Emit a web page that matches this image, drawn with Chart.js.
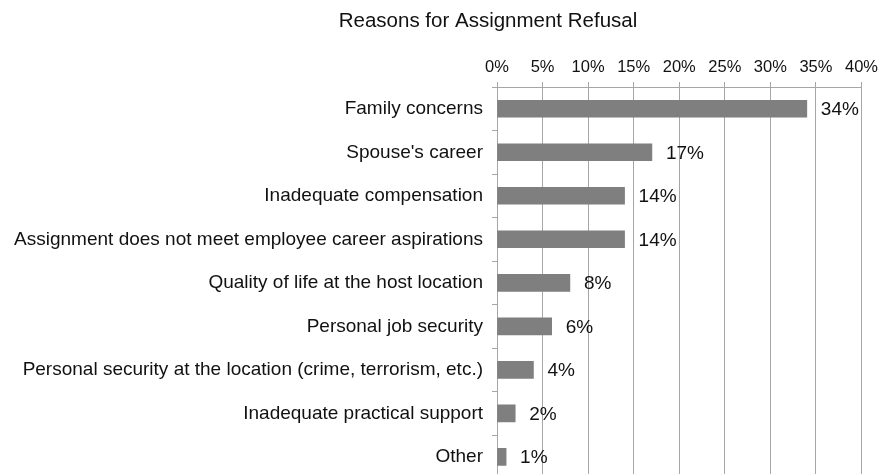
<!DOCTYPE html>
<html>
<head>
<meta charset="utf-8">
<script src="https://cdn.jsdelivr.net/npm/chart.js@4"></script>
<style>
  html, body { margin: 0; padding: 0; background: #fff; overflow: hidden; }
  canvas { display: block; }
</style>
</head>
<body>
<canvas id="refusalChart" width="883" height="499"></canvas>
<script>
// Datos
const reasons = [
    'Family concerns',
    "Spouse's career",
    'Inadequate compensation',
    'Assignment does not meet employee career aspirations',
    'Quality of life at the host location',
    'Personal job security',
    'Personal security at the location (crime, terrorism, etc.)',
    'Inadequate practical support',
    'Other'
];
const shares = [34, 17, 14, 14, 8, 6, 4, 2, 1];
const tickMax = 40;
const tickStep = 5;
const chartTitle = 'Reasons for Assignment Refusal';

const FONT = '"Liberation Sans", Arial, Helvetica, sans-serif';

// Título dibujado a mano (centrado sobre el gráfico original)
const titlePlugin = {
    id: 'customTitle',
    afterDraw(chart) {
        const ctx = chart.ctx;
        ctx.save();
        ctx.font = '20.5px ' + FONT;
        ctx.fillStyle = '#111';
        ctx.textAlign = 'center';
        ctx.textBaseline = 'middle';
        ctx.fillText(chartTitle, 488, 21);
        ctx.restore();
    }
};

// Etiquetas de valor al final de cada barra
const valueLabels = {
    id: 'valueLabels',
    afterDatasetsDraw(chart) {
        const ctx = chart.ctx;
        const meta = chart.getDatasetMeta(0);
        ctx.save();
        ctx.font = '19px ' + FONT;
        ctx.fillStyle = '#111';
        ctx.textAlign = 'left';
        ctx.textBaseline = 'middle';
        meta.data.forEach((bar, i) => {
            ctx.fillText(shares[i] + '%', bar.x + 14, bar.y + 1);
        });
        ctx.restore();
    }
};

new Chart(document.getElementById('refusalChart').getContext('2d'), {
    type: 'bar',
    data: {
        labels: reasons,
        datasets: [{
            data: shares,
            backgroundColor: '#7f7f7f',
            borderWidth: 0,
            barThickness: 17
        }]
    },
    options: {
        indexAxis: 'y',
        responsive: false,
        animation: false,
        devicePixelRatio: 1,
        layout: { padding: { top: 40, right: 17, bottom: 1, left: 0 } },
        plugins: {
            legend: { display: false },
            title: { display: false },
            tooltip: { enabled: false }
        },
        scales: {
            x: {
                position: 'top',
                min: 0,
                max: tickMax,
                ticks: {
                    stepSize: tickStep,
                    color: '#111',
                    padding: 5,
                    font: { size: 16.5, family: FONT },
                    callback: v => v + '%'
                },
                grid: { color: '#a6a6a6', lineWidth: 1, tickLength: 5 },
                border: { color: '#a6a6a6' },
                afterFit(scale) { scale.height = 47; }
            },
            y: {
                ticks: {
                    color: '#111',
                    padding: 9,
                    font: { size: 19, family: FONT }
                },
                grid: { drawOnChartArea: false, color: '#a6a6a6', tickLength: 5 },
                border: { color: '#a6a6a6' },
                afterFit(scale) { scale.width = 497; }
            }
        }
    },
    plugins: [titlePlugin, valueLabels]
});
</script>
</body>
</html>
